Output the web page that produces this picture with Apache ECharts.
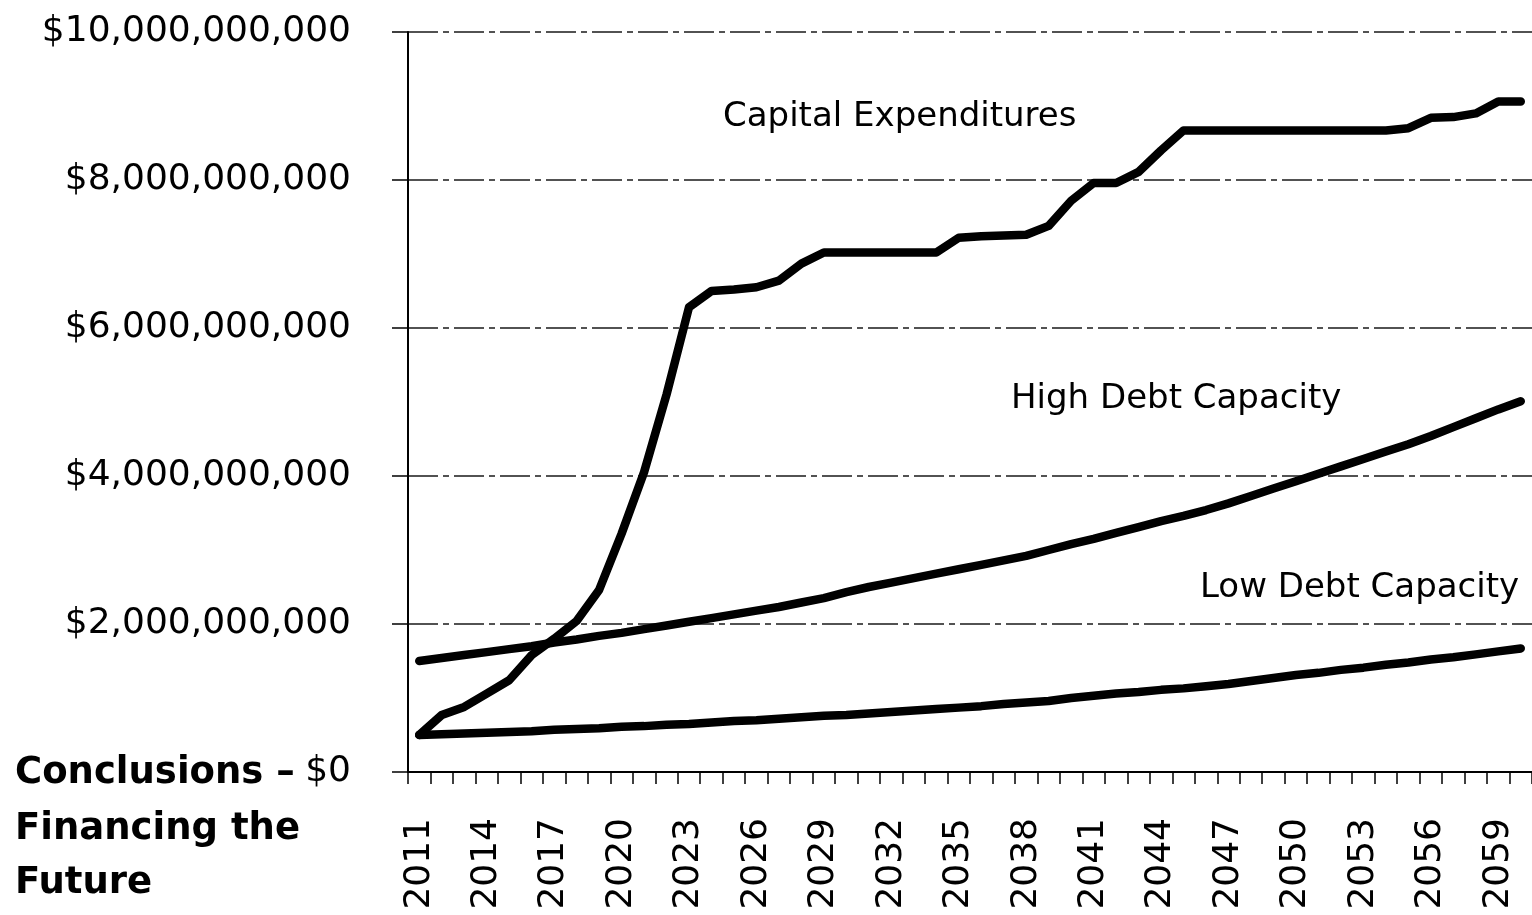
<!DOCTYPE html>
<html>
<head>
<meta charset="utf-8">
<script src="https://cdn.jsdelivr.net/npm/echarts@6/dist/echarts.min.js"></script>
<style>
  html, body { margin: 0; padding: 0; background: #ffffff; }
  #chart { width: 1532px; height: 915px; }
</style>
</head>
<body>
<div id="chart"></div>
<script>
// Years (categories)
const years = [
  '2011','2012','2013','2014','2015','2016','2017','2018','2019','2020',
  '2021','2022','2023','2024','2025','2026','2027','2028','2029','2030',
  '2031','2032','2033','2034','2035','2036','2037','2038','2039','2040',
  '2041','2042','2043','2044','2045','2046','2047','2048','2049','2050',
  '2051','2052','2053','2054','2055','2056','2057','2058','2059','2060'
];

// Values in billions of dollars
const capitalExpenditures = [
  0.50, 0.77, 0.88, 1.06, 1.24, 1.58, 1.80, 2.04, 2.46, 3.22,
  4.05, 5.10, 6.28, 6.50, 6.52, 6.55, 6.64, 6.87, 7.02, 7.02,
  7.02, 7.02, 7.02, 7.02, 7.22, 7.24, 7.25, 7.26, 7.38, 7.72,
  7.96, 7.96, 8.11, 8.40, 8.67, 8.67, 8.67, 8.67, 8.67, 8.67,
  8.67, 8.67, 8.67, 8.67, 8.70, 8.84, 8.85, 8.90, 9.06, 9.06
];

const highDebtCapacity = [
  1.50, 1.54, 1.58, 1.62, 1.66, 1.70, 1.75, 1.79, 1.84, 1.88,
  1.93, 1.98, 2.03, 2.08, 2.13, 2.18, 2.23, 2.29, 2.35, 2.43,
  2.50, 2.56, 2.62, 2.68, 2.74, 2.80, 2.86, 2.92, 3.00, 3.08,
  3.15, 3.23, 3.31, 3.39, 3.46, 3.54, 3.63, 3.73, 3.83, 3.93,
  4.03, 4.13, 4.23, 4.33, 4.43, 4.54, 4.66, 4.78, 4.90, 5.01
];

const lowDebtCapacity = [
  0.50, 0.51, 0.52, 0.53, 0.54, 0.55, 0.57, 0.58, 0.59, 0.61,
  0.62, 0.64, 0.65, 0.67, 0.69, 0.70, 0.72, 0.74, 0.76, 0.77,
  0.79, 0.81, 0.83, 0.85, 0.87, 0.89, 0.92, 0.94, 0.96, 1.00,
  1.03, 1.06, 1.08, 1.11, 1.13, 1.16, 1.19, 1.23, 1.27, 1.31,
  1.34, 1.38, 1.41, 1.45, 1.48, 1.52, 1.55, 1.59, 1.63, 1.67
];

// Y tick labels (0, 2, 4, 6, 8, 10 billions)
const yTickLabels = [
  '$0', '$2,000,000,000', '$4,000,000,000',
  '$6,000,000,000', '$8,000,000,000', '$10,000,000,000'
];

// Series annotation labels
const seriesNames = ['Capital Expenditures', 'High Debt Capacity', 'Low Debt Capacity'];
const titleLines = ['Conclusions \u2013', 'Financing the', 'Future'];

const chart = echarts.init(document.getElementById('chart'), null, { renderer: 'canvas' });

const lineStyleBase = { color: '#000000', width: 8.5, cap: 'round', join: 'round' };

const option = {
  animation: false,
  backgroundColor: '#ffffff',
  grid: { left: 408, right: -5, top: 32, bottom: 143, containLabel: false },
  xAxis: {
    type: 'category',
    data: years,
    boundaryGap: true,
    axisLine: { show: true, lineStyle: { color: '#000', width: 2 } },
    axisTick: { show: true, interval: 0, length: 12, lineStyle: { color: '#000', width: 1.5 } },
    axisLabel: {
      interval: 2,
      rotate: 90,
      margin: 46,
      color: '#000',
      fontFamily: 'DejaVu Sans',
      fontSize: 36
    },
    splitLine: { show: false }
  },
  yAxis: {
    type: 'value',
    min: 0,
    max: 10,
    interval: 2,
    axisLine: { show: true, lineStyle: { color: '#000', width: 2 } },
    axisTick: { show: true, length: 16, lineStyle: { color: '#000', width: 1.5 } },
    axisLabel: {
      margin: 57,
      color: '#000',
      fontFamily: 'DejaVu Sans',
      fontSize: 36,
      formatter: function (v) { return yTickLabels[Math.round(v / 2)]; }
    },
    splitLine: {
      show: true,
      lineStyle: { color: '#1a1a1a', width: 1.5, type: [30, 5, 6, 5] }
    }
  },
  series: [
    { name: seriesNames[0], type: 'line', data: capitalExpenditures, symbol: 'none', smooth: false, lineStyle: lineStyleBase, z: 3 },
    { name: seriesNames[1], type: 'line', data: highDebtCapacity, symbol: 'none', smooth: false, lineStyle: lineStyleBase, z: 3 },
    { name: seriesNames[2], type: 'line', data: lowDebtCapacity, symbol: 'none', smooth: false, lineStyle: lineStyleBase, z: 3 }
  ],
  graphic: [
    { type: 'text', left: 723, top: 100, style: { text: seriesNames[0], fill: '#000', font: '34px "DejaVu Sans"' } },
    { type: 'text', left: 1011, top: 382, style: { text: seriesNames[1], fill: '#000', font: '34px "DejaVu Sans"' } },
    { type: 'text', left: 1200, top: 571, style: { text: seriesNames[2], fill: '#000', font: '34px "DejaVu Sans"' } },
    { type: 'text', left: 15, top: 755, style: { text: titleLines[0], fill: '#000', font: 'bold 37px "DejaVu Sans"' } },
    { type: 'text', left: 15, top: 811, style: { text: titleLines[1], fill: '#000', font: 'bold 37px "DejaVu Sans"' } },
    { type: 'text', left: 15, top: 865, style: { text: titleLines[2], fill: '#000', font: 'bold 37px "DejaVu Sans"' } }
  ]
};

chart.setOption(option);
</script>
</body>
</html>
